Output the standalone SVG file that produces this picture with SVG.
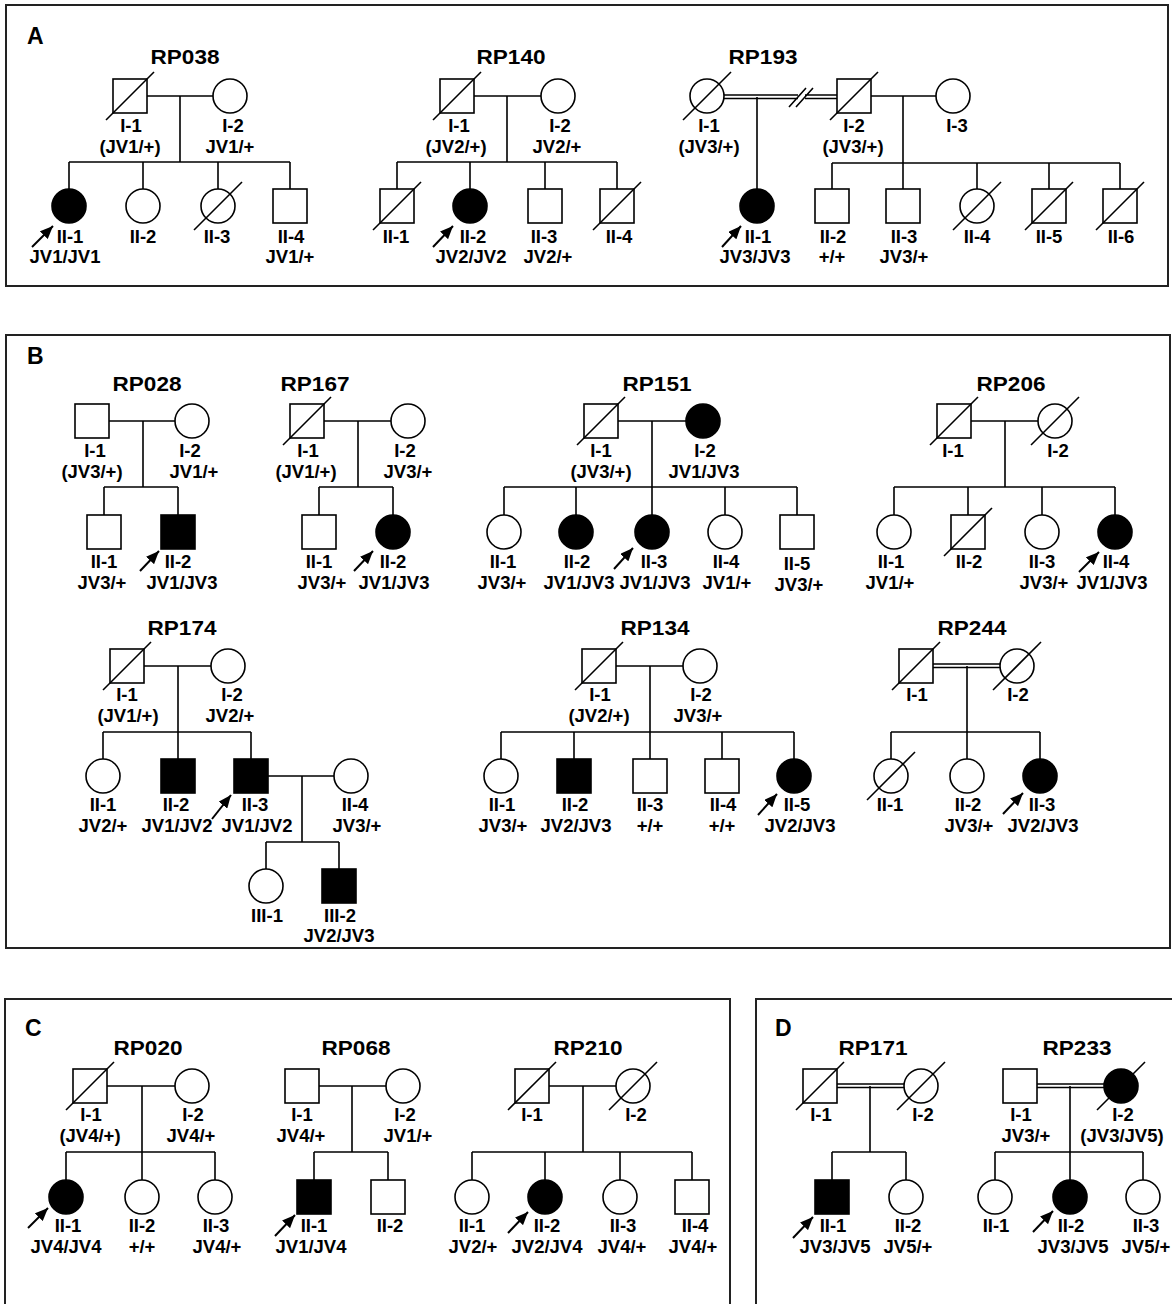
<svg xmlns="http://www.w3.org/2000/svg" width="1172" height="1304" viewBox="0 0 1172 1304">
<style>
.bg{fill:#fff}
.box{fill:none;stroke:#222;stroke-width:2}
.s{fill:#fff;stroke:#000;stroke-width:1.6}
.f{fill:#000;stroke:#000;stroke-width:1.6}
.ln{fill:none;stroke:#000;stroke-width:1.6}
.dl{stroke:#000;stroke-width:1.6}
.ar{stroke:#000;stroke-width:2;marker-end:url(#ah)}
text{font-family:"Liberation Sans",Arial,Helvetica,sans-serif;font-weight:bold;fill:#000}
.t{font-size:18.5px;text-anchor:middle}
.ti{font-size:20px;text-anchor:middle}
.pl{font-size:23px}
</style>
<defs>
<marker id="ah" markerUnits="userSpaceOnUse" markerWidth="13" markerHeight="11" refX="13" refY="5.5" orient="auto" viewBox="0 0 13 11"><path d="M0,0 L13,5.5 L0,11 z" fill="#000"/></marker>
</defs>
<rect class="bg" x="0" y="0" width="1172" height="1304"/>
<g id="panels">
<rect class="box" x="6" y="5" width="1162" height="281"/>
<rect class="box" x="6" y="335" width="1164" height="613"/>
<rect class="box" x="5" y="999" width="725" height="330"/>
<rect class="box" x="756" y="999" width="430" height="330"/>
<text class="pl" x="27" y="44">A</text>
<text class="pl" x="27" y="364">B</text>
<text class="pl" x="25" y="1036">C</text>
<text class="pl" x="775" y="1036">D</text>
</g>
<g id="titles">
<text class="ti" x="185" y="64" textLength="69" lengthAdjust="spacingAndGlyphs">RP038</text>
<text class="ti" x="511" y="64" textLength="69" lengthAdjust="spacingAndGlyphs">RP140</text>
<text class="ti" x="763" y="64" textLength="69" lengthAdjust="spacingAndGlyphs">RP193</text>
<text class="ti" x="147" y="391" textLength="69" lengthAdjust="spacingAndGlyphs">RP028</text>
<text class="ti" x="315" y="391" textLength="69" lengthAdjust="spacingAndGlyphs">RP167</text>
<text class="ti" x="657" y="391" textLength="69" lengthAdjust="spacingAndGlyphs">RP151</text>
<text class="ti" x="1011" y="391" textLength="69" lengthAdjust="spacingAndGlyphs">RP206</text>
<text class="ti" x="182" y="635" textLength="69" lengthAdjust="spacingAndGlyphs">RP174</text>
<text class="ti" x="655" y="635" textLength="69" lengthAdjust="spacingAndGlyphs">RP134</text>
<text class="ti" x="972" y="635" textLength="69" lengthAdjust="spacingAndGlyphs">RP244</text>
<text class="ti" x="148" y="1055" textLength="69" lengthAdjust="spacingAndGlyphs">RP020</text>
<text class="ti" x="356" y="1055" textLength="69" lengthAdjust="spacingAndGlyphs">RP068</text>
<text class="ti" x="588" y="1055" textLength="69" lengthAdjust="spacingAndGlyphs">RP210</text>
<text class="ti" x="873" y="1055" textLength="69" lengthAdjust="spacingAndGlyphs">RP171</text>
<text class="ti" x="1077" y="1055" textLength="69" lengthAdjust="spacingAndGlyphs">RP233</text>
</g>
<g id="connectors">
<!-- RP038 -->
<path class="ln" d="M147,96 H213 M180,96 V162 M69,162 H290 M69,162 V189 M143,162 V189 M218,162 V189 M290,162 V189"/>
<!-- RP140 -->
<path class="ln" d="M474,96 H541 M507,96 V162 M397,162 H617 M397,162 V189 M470,162 V189 M545,162 V189 M617,162 V189"/>
<!-- RP193 -->
<path class="ln" d="M724,95 H798 M724,98.5 H798 M805,95 H837 M805,98.5 H837 M789,107 L806,88 M796,107 L813,88 M757,97 V189 M871,96 H936 M903,96 V189 M832,163 H1120 M832,163 V189 M977,163 V189 M1049,163 V189 M1120,163 V189"/>
<!-- RP028 -->
<path class="ln" d="M109,421 H175 M143,421 V487 M104,487 H178 M104,487 V515 M178,487 V515"/>
<!-- RP167 -->
<path class="ln" d="M324,421 H391 M358,421 V487 M319,487 H393 M319,487 V515 M393,487 V515"/>
<!-- RP151 -->
<path class="ln" d="M618,421 H686 M652,421 V515 M504,487 H797 M504,487 V515 M576,487 V515 M725,487 V515 M797,487 V515"/>
<!-- RP206 -->
<path class="ln" d="M971,421 H1038 M1005,421 V487 M894,487 H1115 M894,487 V515 M968,487 V515 M1042,487 V515 M1115,487 V515"/>
<!-- RP174 -->
<path class="ln" d="M144,666 H211 M178,666 V759 M103,732 H251 M103,732 V759 M251,732 V759 M268,776 H334 M302,776 V842 M266,842 H339 M266,842 V869 M339,842 V869"/>
<!-- RP134 -->
<path class="ln" d="M616,666 H683 M650,666 V759 M501,732 H794 M501,732 V759 M574,732 V759 M722,732 V759 M794,732 V759"/>
<!-- RP244 -->
<path class="ln" d="M933,664 H1000 M933,667.5 H1000 M967,666 V759 M891,732 H1040 M891,732 V759 M1040,732 V759"/>
<!-- RP020 -->
<path class="ln" d="M107,1086 H175 M142,1086 V1180 M66,1152 H215 M66,1152 V1180 M215,1152 V1180"/>
<!-- RP068 -->
<path class="ln" d="M319,1086 H386 M352,1086 V1152 M314,1152 H388 M314,1152 V1180 M388,1152 V1180"/>
<!-- RP210 -->
<path class="ln" d="M549,1086 H616 M583,1086 V1152 M472,1152 H692 M472,1152 V1180 M545,1152 V1180 M620,1152 V1180 M692,1152 V1180"/>
<!-- RP171 -->
<path class="ln" d="M837,1084 H904 M837,1087.5 H904 M870,1086 V1152 M832,1152 H906 M832,1152 V1180 M906,1152 V1180"/>
<!-- RP233 -->
<path class="ln" d="M1037,1084 H1104 M1037,1087.5 H1104 M1070,1086 V1180 M995,1152 H1143 M995,1152 V1180 M1143,1152 V1180"/>
<!-- proband arrows -->
<line class="ar" x1="32" y1="247" x2="53" y2="226"/>
<line class="ar" x1="433" y1="247" x2="453" y2="226"/>
<line class="ar" x1="722" y1="247" x2="741" y2="226"/>
<line class="ar" x1="140" y1="571" x2="159" y2="551"/>
<line class="ar" x1="354" y1="571" x2="373" y2="551"/>
<line class="ar" x1="614" y1="569" x2="633" y2="548"/>
<line class="ar" x1="1079" y1="572" x2="1099" y2="552"/>
<line class="ar" x1="212" y1="819" x2="231" y2="795"/>
<line class="ar" x1="758" y1="815" x2="777" y2="794"/>
<line class="ar" x1="1003" y1="814" x2="1023" y2="793"/>
<line class="ar" x1="28" y1="1228" x2="48" y2="1208"/>
<line class="ar" x1="275" y1="1236" x2="295" y2="1215"/>
<line class="ar" x1="508" y1="1233" x2="528" y2="1212"/>
<line class="ar" x1="793" y1="1238" x2="813" y2="1217"/>
<line class="ar" x1="1033" y1="1232" x2="1053" y2="1211"/>
</g>
<!-- ===== RP038 ===== -->
<g id="rp038-I-1"><rect class="s" x="113" y="79" width="34" height="34"/><line class="dl" x1="106" y1="120" x2="154" y2="72"/><text class="t" x="131" y="132">I-1</text><text class="t" x="130" y="153">(JV1/+)</text></g>
<g id="rp038-I-2"><circle class="s" cx="230" cy="96" r="17"/><text class="t" x="233" y="132">I-2</text><text class="t" x="230" y="153">JV1/+</text></g>
<g id="rp038-II-1"><circle class="f" cx="69" cy="206" r="17"/><text class="t" x="70" y="243">II-1</text><text class="t" x="65" y="263">JV1/JV1</text></g>
<g id="rp038-II-2"><circle class="s" cx="143" cy="206" r="17"/><text class="t" x="143" y="243">II-2</text></g>
<g id="rp038-II-3"><circle class="s" cx="218" cy="206" r="17"/><line class="dl" x1="194" y1="230" x2="242" y2="182"/><text class="t" x="217" y="243">II-3</text></g>
<g id="rp038-II-4"><rect class="s" x="273" y="189" width="34" height="34"/><text class="t" x="291" y="243">II-4</text><text class="t" x="290" y="263">JV1/+</text></g>
<!-- ===== RP140 ===== -->
<g id="rp140-I-1"><rect class="s" x="440" y="79" width="34" height="34"/><line class="dl" x1="433" y1="120" x2="481" y2="72"/><text class="t" x="459" y="132">I-1</text><text class="t" x="456" y="153">(JV2/+)</text></g>
<g id="rp140-I-2"><circle class="s" cx="558" cy="96" r="17"/><text class="t" x="560" y="132">I-2</text><text class="t" x="557" y="153">JV2/+</text></g>
<g id="rp140-II-1"><rect class="s" x="380" y="189" width="34" height="34"/><line class="dl" x1="373" y1="230" x2="421" y2="182"/><text class="t" x="396" y="243">II-1</text></g>
<g id="rp140-II-2"><circle class="f" cx="470" cy="206" r="17"/><text class="t" x="473" y="243">II-2</text><text class="t" x="471" y="263">JV2/JV2</text></g>
<g id="rp140-II-3"><rect class="s" x="528" y="189" width="34" height="34"/><text class="t" x="544" y="243">II-3</text><text class="t" x="548" y="263">JV2/+</text></g>
<g id="rp140-II-4"><rect class="s" x="600" y="189" width="34" height="34"/><line class="dl" x1="593" y1="230" x2="641" y2="182"/><text class="t" x="619" y="243">II-4</text></g>
<!-- ===== RP193 ===== -->
<g id="rp193-I-1"><circle class="s" cx="707" cy="96" r="17"/><line class="dl" x1="683" y1="120" x2="731" y2="72"/><text class="t" x="709" y="132">I-1</text><text class="t" x="709" y="153">(JV3/+)</text></g>
<g id="rp193-I-2"><rect class="s" x="837" y="79" width="34" height="34"/><line class="dl" x1="830" y1="120" x2="878" y2="72"/><text class="t" x="854" y="132">I-2</text><text class="t" x="853" y="153">(JV3/+)</text></g>
<g id="rp193-I-3"><circle class="s" cx="953" cy="96" r="17"/><text class="t" x="957" y="132">I-3</text></g>
<g id="rp193-II-1"><circle class="f" cx="757" cy="206" r="17"/><text class="t" x="758" y="243">II-1</text><text class="t" x="755" y="263">JV3/JV3</text></g>
<g id="rp193-II-2"><rect class="s" x="815" y="189" width="34" height="34"/><text class="t" x="833" y="243">II-2</text><text class="t" x="832" y="263">+/+</text></g>
<g id="rp193-II-3"><rect class="s" x="886" y="189" width="34" height="34"/><text class="t" x="904" y="243">II-3</text><text class="t" x="904" y="263">JV3/+</text></g>
<g id="rp193-II-4"><circle class="s" cx="977" cy="206" r="17"/><line class="dl" x1="953" y1="230" x2="1001" y2="182"/><text class="t" x="977" y="243">II-4</text></g>
<g id="rp193-II-5"><rect class="s" x="1032" y="189" width="34" height="34"/><line class="dl" x1="1025" y1="230" x2="1073" y2="182"/><text class="t" x="1049" y="243">II-5</text></g>
<g id="rp193-II-6"><rect class="s" x="1103" y="189" width="34" height="34"/><line class="dl" x1="1096" y1="230" x2="1144" y2="182"/><text class="t" x="1121" y="243">II-6</text></g>
<!-- ===== RP028 ===== -->
<g id="rp028-I-1"><rect class="s" x="75" y="404" width="34" height="34"/><text class="t" x="95" y="457">I-1</text><text class="t" x="92" y="478">(JV3/+)</text></g>
<g id="rp028-I-2"><circle class="s" cx="192" cy="421" r="17"/><text class="t" x="190" y="457">I-2</text><text class="t" x="194" y="478">JV1/+</text></g>
<g id="rp028-II-1"><rect class="s" x="87" y="515" width="34" height="34"/><text class="t" x="104" y="568">II-1</text><text class="t" x="102" y="589">JV3/+</text></g>
<g id="rp028-II-2"><rect class="f" x="161" y="515" width="34" height="34"/><text class="t" x="178" y="568">II-2</text><text class="t" x="182" y="589">JV1/JV3</text></g>
<!-- ===== RP167 ===== -->
<g id="rp167-I-1"><rect class="s" x="290" y="404" width="34" height="34"/><line class="dl" x1="283" y1="445" x2="331" y2="397"/><text class="t" x="308" y="457">I-1</text><text class="t" x="306" y="478">(JV1/+)</text></g>
<g id="rp167-I-2"><circle class="s" cx="408" cy="421" r="17"/><text class="t" x="405" y="457">I-2</text><text class="t" x="408" y="478">JV3/+</text></g>
<g id="rp167-II-1"><rect class="s" x="302" y="515" width="34" height="34"/><text class="t" x="319" y="568">II-1</text><text class="t" x="322" y="589">JV3/+</text></g>
<g id="rp167-II-2"><circle class="f" cx="393" cy="532" r="17"/><text class="t" x="393" y="568">II-2</text><text class="t" x="394" y="589">JV1/JV3</text></g>
<!-- ===== RP151 ===== -->
<g id="rp151-I-1"><rect class="s" x="584" y="404" width="34" height="34"/><line class="dl" x1="577" y1="445" x2="625" y2="397"/><text class="t" x="601" y="457">I-1</text><text class="t" x="601" y="478">(JV3/+)</text></g>
<g id="rp151-I-2"><circle class="f" cx="703" cy="421" r="17"/><text class="t" x="705" y="457">I-2</text><text class="t" x="704" y="478">JV1/JV3</text></g>
<g id="rp151-II-1"><circle class="s" cx="504" cy="532" r="17"/><text class="t" x="503" y="568">II-1</text><text class="t" x="502" y="589">JV3/+</text></g>
<g id="rp151-II-2"><circle class="f" cx="576" cy="532" r="17"/><text class="t" x="577" y="568">II-2</text><text class="t" x="579" y="589">JV1/JV3</text></g>
<g id="rp151-II-3"><circle class="f" cx="652" cy="532" r="17"/><text class="t" x="654" y="568">II-3</text><text class="t" x="655" y="589">JV1/JV3</text></g>
<g id="rp151-II-4"><circle class="s" cx="725" cy="532" r="17"/><text class="t" x="726" y="568">II-4</text><text class="t" x="727" y="589">JV1/+</text></g>
<g id="rp151-II-5"><rect class="s" x="780" y="515" width="34" height="34"/><text class="t" x="797" y="570">II-5</text><text class="t" x="799" y="591">JV3/+</text></g>
<!-- ===== RP206 ===== -->
<g id="rp206-I-1"><rect class="s" x="937" y="404" width="34" height="34"/><line class="dl" x1="930" y1="445" x2="978" y2="397"/><text class="t" x="953" y="457">I-1</text></g>
<g id="rp206-I-2"><circle class="s" cx="1055" cy="421" r="17"/><line class="dl" x1="1031" y1="445" x2="1079" y2="397"/><text class="t" x="1058" y="457">I-2</text></g>
<g id="rp206-II-1"><circle class="s" cx="894" cy="532" r="17"/><text class="t" x="891" y="568">II-1</text><text class="t" x="890" y="589">JV1/+</text></g>
<g id="rp206-II-2"><rect class="s" x="951" y="515" width="34" height="34"/><line class="dl" x1="944" y1="556" x2="992" y2="508"/><text class="t" x="969" y="568">II-2</text></g>
<g id="rp206-II-3"><circle class="s" cx="1042" cy="532" r="17"/><text class="t" x="1042" y="568">II-3</text><text class="t" x="1044" y="589">JV3/+</text></g>
<g id="rp206-II-4"><circle class="f" cx="1115" cy="532" r="17"/><text class="t" x="1116" y="568">II-4</text><text class="t" x="1112" y="589">JV1/JV3</text></g>
<!-- ===== RP174 ===== -->
<g id="rp174-I-1"><rect class="s" x="110" y="649" width="34" height="34"/><line class="dl" x1="103" y1="690" x2="151" y2="642"/><text class="t" x="127" y="701">I-1</text><text class="t" x="128" y="722">(JV1/+)</text></g>
<g id="rp174-I-2"><circle class="s" cx="228" cy="666" r="17"/><text class="t" x="232" y="701">I-2</text><text class="t" x="230" y="722">JV2/+</text></g>
<g id="rp174-II-1"><circle class="s" cx="103" cy="776" r="17"/><text class="t" x="103" y="811">II-1</text><text class="t" x="103" y="832">JV2/+</text></g>
<g id="rp174-II-2"><rect class="f" x="161" y="759" width="34" height="34"/><text class="t" x="176" y="811">II-2</text><text class="t" x="177" y="832">JV1/JV2</text></g>
<g id="rp174-II-3"><rect class="f" x="234" y="759" width="34" height="34"/><text class="t" x="255" y="811">II-3</text><text class="t" x="257" y="832">JV1/JV2</text></g>
<g id="rp174-II-4"><circle class="s" cx="351" cy="776" r="17"/><text class="t" x="355" y="811">II-4</text><text class="t" x="357" y="832">JV3/+</text></g>
<g id="rp174-III-1"><circle class="s" cx="266" cy="886" r="17"/><text class="t" x="267" y="922">III-1</text></g>
<g id="rp174-III-2"><rect class="f" x="322" y="869" width="34" height="34"/><text class="t" x="340" y="922">III-2</text><text class="t" x="339" y="942">JV2/JV3</text></g>
<!-- ===== RP134 ===== -->
<g id="rp134-I-1"><rect class="s" x="582" y="649" width="34" height="34"/><line class="dl" x1="575" y1="690" x2="623" y2="642"/><text class="t" x="600" y="701">I-1</text><text class="t" x="599" y="722">(JV2/+)</text></g>
<g id="rp134-I-2"><circle class="s" cx="700" cy="666" r="17"/><text class="t" x="701" y="701">I-2</text><text class="t" x="698" y="722">JV3/+</text></g>
<g id="rp134-II-1"><circle class="s" cx="501" cy="776" r="17"/><text class="t" x="502" y="811">II-1</text><text class="t" x="503" y="832">JV3/+</text></g>
<g id="rp134-II-2"><rect class="f" x="557" y="759" width="34" height="34"/><text class="t" x="575" y="811">II-2</text><text class="t" x="576" y="832">JV2/JV3</text></g>
<g id="rp134-II-3"><rect class="s" x="633" y="759" width="34" height="34"/><text class="t" x="650" y="811">II-3</text><text class="t" x="650" y="832">+/+</text></g>
<g id="rp134-II-4"><rect class="s" x="705" y="759" width="34" height="34"/><text class="t" x="723" y="811">II-4</text><text class="t" x="722" y="832">+/+</text></g>
<g id="rp134-II-5"><circle class="f" cx="794" cy="776" r="17"/><text class="t" x="797" y="811">II-5</text><text class="t" x="800" y="832">JV2/JV3</text></g>
<!-- ===== RP244 ===== -->
<g id="rp244-I-1"><rect class="s" x="899" y="649" width="34" height="34"/><line class="dl" x1="892" y1="690" x2="940" y2="642"/><text class="t" x="917" y="701">I-1</text></g>
<g id="rp244-I-2"><circle class="s" cx="1017" cy="666" r="17"/><line class="dl" x1="993" y1="690" x2="1041" y2="642"/><text class="t" x="1018" y="701">I-2</text></g>
<g id="rp244-II-1"><circle class="s" cx="891" cy="776" r="17"/><line class="dl" x1="867" y1="800" x2="915" y2="752"/><text class="t" x="890" y="811">II-1</text></g>
<g id="rp244-II-2"><circle class="s" cx="967" cy="776" r="17"/><text class="t" x="968" y="811">II-2</text><text class="t" x="969" y="832">JV3/+</text></g>
<g id="rp244-II-3"><circle class="f" cx="1040" cy="776" r="17"/><text class="t" x="1042" y="811">II-3</text><text class="t" x="1043" y="832">JV2/JV3</text></g>
<!-- ===== RP020 ===== -->
<g id="rp020-I-1"><rect class="s" x="73" y="1069" width="34" height="34"/><line class="dl" x1="66" y1="1110" x2="114" y2="1062"/><text class="t" x="91" y="1121">I-1</text><text class="t" x="90" y="1142">(JV4/+)</text></g>
<g id="rp020-I-2"><circle class="s" cx="192" cy="1086" r="17"/><text class="t" x="193" y="1121">I-2</text><text class="t" x="191" y="1142">JV4/+</text></g>
<g id="rp020-II-1"><circle class="f" cx="66" cy="1197" r="17"/><text class="t" x="68" y="1232">II-1</text><text class="t" x="66" y="1253">JV4/JV4</text></g>
<g id="rp020-II-2"><circle class="s" cx="142" cy="1197" r="17"/><text class="t" x="142" y="1232">II-2</text><text class="t" x="142" y="1253">+/+</text></g>
<g id="rp020-II-3"><circle class="s" cx="215" cy="1197" r="17"/><text class="t" x="216" y="1232">II-3</text><text class="t" x="217" y="1253">JV4/+</text></g>
<!-- ===== RP068 ===== -->
<g id="rp068-I-1"><rect class="s" x="285" y="1069" width="34" height="34"/><text class="t" x="302" y="1121">I-1</text><text class="t" x="301" y="1142">JV4/+</text></g>
<g id="rp068-I-2"><circle class="s" cx="403" cy="1086" r="17"/><text class="t" x="405" y="1121">I-2</text><text class="t" x="408" y="1142">JV1/+</text></g>
<g id="rp068-II-1"><rect class="f" x="297" y="1180" width="34" height="34"/><text class="t" x="314" y="1232">II-1</text><text class="t" x="311" y="1253">JV1/JV4</text></g>
<g id="rp068-II-2"><rect class="s" x="371" y="1180" width="34" height="34"/><text class="t" x="390" y="1232">II-2</text></g>
<!-- ===== RP210 ===== -->
<g id="rp210-I-1"><rect class="s" x="515" y="1069" width="34" height="34"/><line class="dl" x1="508" y1="1110" x2="556" y2="1062"/><text class="t" x="532" y="1121">I-1</text></g>
<g id="rp210-I-2"><circle class="s" cx="633" cy="1086" r="17"/><line class="dl" x1="609" y1="1110" x2="657" y2="1062"/><text class="t" x="636" y="1121">I-2</text></g>
<g id="rp210-II-1"><circle class="s" cx="472" cy="1197" r="17"/><text class="t" x="472" y="1232">II-1</text><text class="t" x="473" y="1253">JV2/+</text></g>
<g id="rp210-II-2"><circle class="f" cx="545" cy="1197" r="17"/><text class="t" x="547" y="1232">II-2</text><text class="t" x="547" y="1253">JV2/JV4</text></g>
<g id="rp210-II-3"><circle class="s" cx="620" cy="1197" r="17"/><text class="t" x="623" y="1232">II-3</text><text class="t" x="622" y="1253">JV4/+</text></g>
<g id="rp210-II-4"><rect class="s" x="675" y="1180" width="34" height="34"/><text class="t" x="695" y="1232">II-4</text><text class="t" x="693" y="1253">JV4/+</text></g>
<!-- ===== RP171 ===== -->
<g id="rp171-I-1"><rect class="s" x="803" y="1069" width="34" height="34"/><line class="dl" x1="796" y1="1110" x2="844" y2="1062"/><text class="t" x="821" y="1121">I-1</text></g>
<g id="rp171-I-2"><circle class="s" cx="921" cy="1086" r="17"/><line class="dl" x1="897" y1="1110" x2="945" y2="1062"/><text class="t" x="923" y="1121">I-2</text></g>
<g id="rp171-II-1"><rect class="f" x="815" y="1180" width="34" height="34"/><text class="t" x="833" y="1232">II-1</text><text class="t" x="835" y="1253">JV3/JV5</text></g>
<g id="rp171-II-2"><circle class="s" cx="906" cy="1197" r="17"/><text class="t" x="908" y="1232">II-2</text><text class="t" x="908" y="1253">JV5/+</text></g>
<!-- ===== RP233 ===== -->
<g id="rp233-I-1"><rect class="s" x="1003" y="1069" width="34" height="34"/><text class="t" x="1021" y="1121">I-1</text><text class="t" x="1026" y="1142">JV3/+</text></g>
<g id="rp233-I-2"><circle class="f" cx="1121" cy="1086" r="17"/><line class="dl" x1="1097" y1="1110" x2="1145" y2="1062"/><text class="t" x="1123" y="1121">I-2</text><text class="t" x="1122" y="1142">(JV3/JV5)</text></g>
<g id="rp233-II-1"><circle class="s" cx="995" cy="1197" r="17"/><text class="t" x="996" y="1232">II-1</text></g>
<g id="rp233-II-2"><circle class="f" cx="1070" cy="1197" r="17"/><text class="t" x="1071" y="1232">II-2</text><text class="t" x="1073" y="1253">JV3/JV5</text></g>
<g id="rp233-II-3"><circle class="s" cx="1143" cy="1197" r="17"/><text class="t" x="1146" y="1232">II-3</text><text class="t" x="1146" y="1253">JV5/+</text></g>
</svg>
